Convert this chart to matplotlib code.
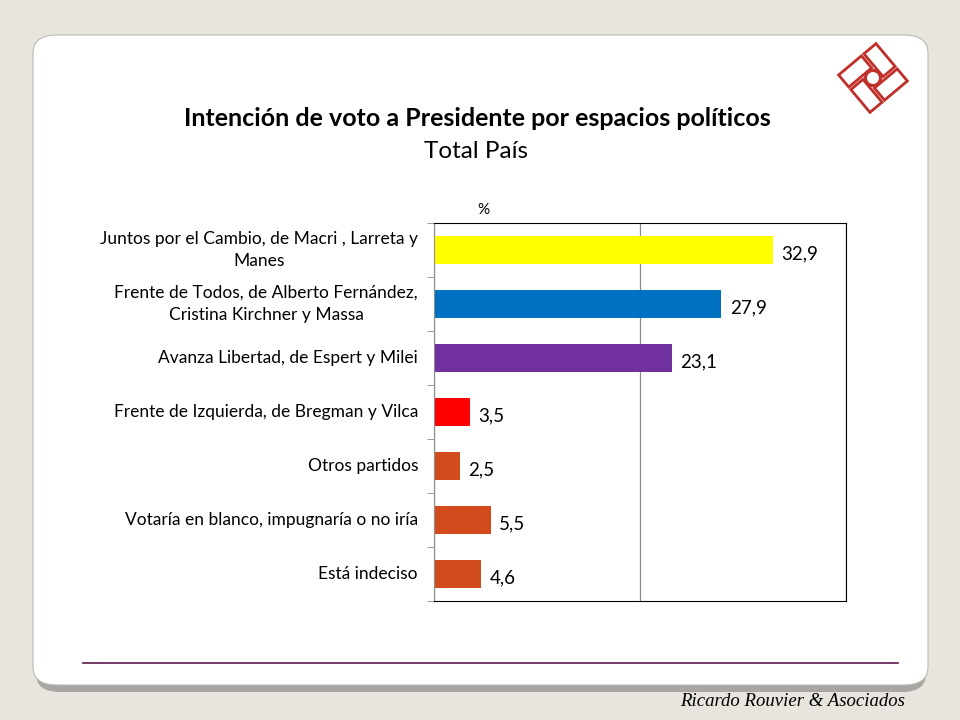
import numpy as np
import matplotlib
matplotlib.use("Agg")
import matplotlib.pyplot as plt
from matplotlib.patches import FancyBboxPatch, Rectangle, Circle
import matplotlib.transforms as mtransforms

categories = ["Juntos por el Cambio, de Macri , Larreta y\nManes",
              "Frente de Todos, de Alberto Fernández,\nCristina Kirchner y Massa",
              "Avanza Libertad, de Espert y Milei",
              "Frente de Izquierda, de Bregman y Vilca",
              "Otros partidos",
              "Votaría en blanco, impugnaría o no iría",
              "Está indeciso"]
values = [32.9, 27.9, 23.1, 3.5, 2.5, 5.5, 4.6]
value_labels = ["32,9", "27,9", "23,1", "3,5", "2,5", "5,5", "4,6"]
colors = ["#FFFF00", "#0070C0", "#7030A0", "#FF0000", "#D24B1C", "#D24B1C", "#D24B1C"]

W, H = 960, 720
fig = plt.figure(figsize=(9.6, 7.2), dpi=100)
fig.patch.set_facecolor("#E8E4DE")

def fx(x):
    return x / W
def fy(y):
    return 1 - y / H

# card shadow + card
shadow = FancyBboxPatch((fx(36), fy(692)), fx(890), fy(40) - fy(692),
                        boxstyle="round,pad=0,rounding_size=0.025",
                        transform=fig.transFigure, facecolor="#A8A6A2",
                        edgecolor="none", zorder=0)
fig.patches.append(shadow)
card = FancyBboxPatch((fx(33), fy(685)), fx(895), fy(35) - fy(685),
                      boxstyle="round,pad=0,rounding_size=0.025",
                      transform=fig.transFigure, facecolor="white",
                      edgecolor="#BDBAB5", linewidth=0.8, zorder=1)
fig.patches.append(card)

# bottom line
fig.add_artist(plt.Line2D([fx(83), fx(898)], [fy(663), fy(663)],
                          transform=fig.transFigure, color="#5E1A4C", lw=1.2, zorder=2))

# titles
fig.text(fx(477), fy(118), "Intención de voto a Presidente por espacios políticos",
         ha="center", va="center", fontsize=18, fontweight="bold", family="Lato", zorder=3)
fig.text(fx(476), fy(151), "Total País", ha="center", va="center",
         fontsize=17.5, family="Lato", zorder=3)
fig.text(fx(483), fy(210), "%", ha="center", va="center", fontsize=11, family="Lato", zorder=3)

fig.text(fx(905), fy(702), "Ricardo Rouvier & Asociados", ha="right", va="center",
         fontsize=13.5, family="Liberation Serif", style="italic", zorder=3)

# logo (pinwheel of 4 rectangles round a circle), units = pixels
lax = fig.add_axes([fx(831), fy(117), fx(84), fy(39) - fy(117)])
lax.set_zorder(5)
lax.set_xlim(-42, 42)
lax.set_ylim(-39, 39)
lax.set_aspect("equal")
lax.axis("off")
red = "#C0302B"
a, s, gap = 14, 19, 1.6
rot = mtransforms.Affine2D().rotate_deg(40) + lax.transData
pin = [(-a / 2 - s, a / 2, a + s, s),
       (a / 2, -a / 2, s, a + s),
       (-a / 2, -a / 2 - s, a + s, s),
       (-a / 2 - s, -a / 2 - s, s, a + s)]
for (x0, y0, w, h) in pin:
    lax.add_patch(Rectangle((x0 + gap, y0 + gap), w - 2 * gap, h - 2 * gap,
                            facecolor="none", edgecolor=red, lw=2.0,
                            transform=rot, clip_on=False))
lax.add_patch(Circle((0, 0), 7.5, facecolor="white", edgecolor=red, lw=2.2, zorder=5))

# chart
ax = fig.add_axes([fx(434), fy(601), fx(846) - fx(434), fy(223) - fy(601)])
ax.set_zorder(4)
y = np.arange(len(categories))
ax.barh(y, values, height=0.52, color=colors)
ax.set_xlim(0, 40)
ax.set_ylim(len(categories) - 0.5, -0.5)
ax.set_xticks([0, 20, 40])
ax.set_xticklabels([])
ax.tick_params(axis="x", length=0)
ax.grid(axis="x", color="#8C8C8C", lw=0.9)
ax.set_axisbelow(True)
ax.set_yticks([])
ax.set_yticks(np.arange(len(categories) + 1) - 0.5, minor=True)
ax.tick_params(axis="y", which="minor", length=5, color="#8C8C8C")
for i, lab in enumerate(categories):
    ax.text(-16 / 412, i, lab, transform=ax.get_yaxis_transform(), ha="right",
            va="center", multialignment="center", linespacing=1.45,
            fontsize=12.5, family="Lato")
for s_ in ["top", "right", "bottom"]:
    ax.spines[s_].set_color("black")
ax.spines["left"].set_color("#8C8C8C")
for i, v in enumerate(values):
    ax.text(v + 0.8, i + 0.08, value_labels[i], va="center", ha="left",
            fontsize=13.5, family="Lato")

fig.savefig("out.png", dpi=100, facecolor=fig.get_facecolor())
